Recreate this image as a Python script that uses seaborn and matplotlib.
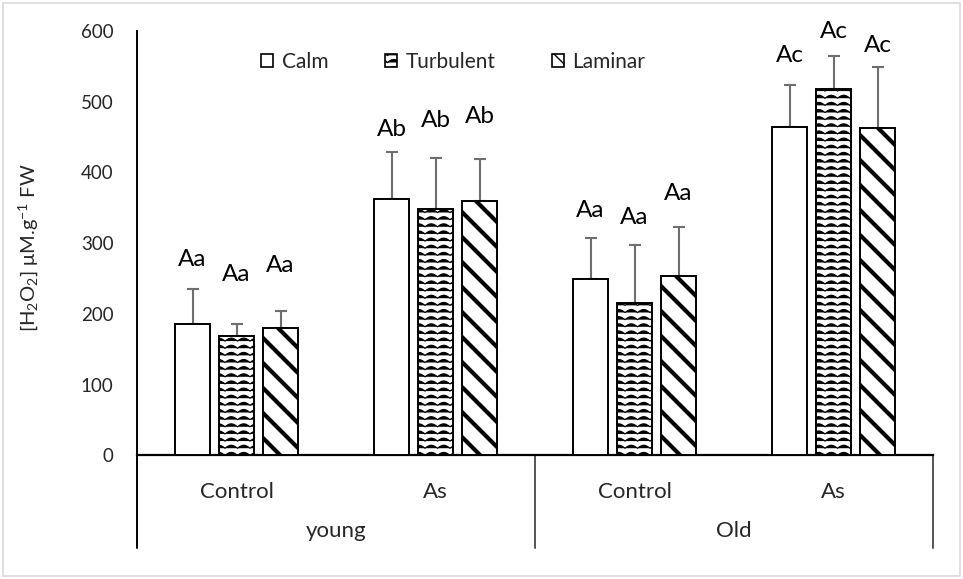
import numpy as np
import pandas as pd
import matplotlib
matplotlib.use('Agg')
import matplotlib.pyplot as plt
import matplotlib.hatch as mhatch
from matplotlib.path import Path
from matplotlib.patches import Patch, Rectangle
import seaborn as sns

# data
groups = ['young', 'young', 'Old', 'Old']
treatments = ['Control', 'As', 'Control', 'As']
flows = ['Calm', 'Turbulent', 'Laminar']

calm = [186, 362, 250, 464]
turbulent = [169, 349, 215, 518]
laminar = [180, 359, 253, 463]

calm_err = [49, 67, 58, 59]
turbulent_err = [17, 71, 82, 47]
laminar_err = [24, 60, 70, 86]

letters = ['Aa', 'Ab', 'Aa', 'Ac']
calm_lbl_y = [277, 461, 346, 566]
turbulent_lbl_y = [256, 473, 337, 599]
laminar_lbl_y = [268, 479, 370, 580]


# wavy hatch for "Turbulent" (uses the '*' slot)
class WaveHatch(mhatch.HatchPatternBase):
    def __init__(self, hatch, density):
        self.rows = 14 if '*' in hatch else 0
        self.periods = 8
        self.npts = self.periods * 6 + 1
        self.num_vertices = self.rows * self.npts

    def set_vertices_and_codes(self, vertices, codes):
        x = np.linspace(0, 1, self.npts)
        wave = 0.03 * np.abs(np.sin(np.pi * self.periods * x))
        for r in range(self.rows):
            sl = slice(r * self.npts, (r + 1) * self.npts)
            vertices[sl, 0] = x
            vertices[sl, 1] = (r + 0.25) / self.rows + wave
            codes[sl] = Path.LINETO
            codes[r * self.npts] = Path.MOVETO


# denser diagonal stripes for "Laminar" (uses the 'O' slot)
class StripeHatch(mhatch.SouthEastHatch):
    def __init__(self, hatch, density):
        self.num_lines = 8 * hatch.count('O')
        self.num_vertices = (self.num_lines + 1) * 2 if self.num_lines else 0


mhatch._hatch_types[mhatch._hatch_types.index(mhatch.Stars)] = WaveHatch
mhatch._hatch_types[mhatch._hatch_types.index(mhatch.LargeCircles)] = StripeHatch

hatches = {'Calm': '', 'Turbulent': '*', 'Laminar': 'O'}
hatch_lw = {'Calm': 1.0, 'Turbulent': 0.85, 'Laminar': 3.0}

keys = [g + ' ' + t for g, t in zip(groups, treatments)]
df = pd.DataFrame({
    'key': keys * 3,
    'flow': np.repeat(flows, 4),
    'value': calm + turbulent + laminar,
})
errs = {'Calm': calm_err, 'Turbulent': turbulent_err, 'Laminar': laminar_err}
lbl_y = {'Calm': calm_lbl_y, 'Turbulent': turbulent_lbl_y, 'Laminar': laminar_lbl_y}

sns.set_style('white')
plt.rcParams['font.family'] = ['Lato', 'DejaVu Sans']
plt.rcParams['mathtext.fontset'] = 'custom'
plt.rcParams['mathtext.rm'] = 'Lato'
plt.rcParams['mathtext.default'] = 'regular'
plt.rcParams['hatch.color'] = 'black'

fig = plt.figure(figsize=(9.63, 5.79), dpi=100)
ax = fig.add_axes([0.1423, 0.2133, 0.8266, 0.7332])

sns.barplot(data=df, x='key', y='value', hue='flow', hue_order=flows,
            order=keys, palette=['white'] * 3, width=0.663, gap=0.2,
            edgecolor='black', linewidth=1.4, errorbar=None, legend=False,
            saturation=1, ax=ax, zorder=3)

for flow, cont in zip(flows, ax.containers):
    for p in cont.patches:
        p.set_hatch(hatches[flow])
        if hasattr(p, 'set_hatch_linewidth'):
            p.set_hatch_linewidth(hatch_lw[flow])
        cx = p.get_x() + p.get_width() / 2
        i = int(round(cx))
        h = p.get_height()
        ax.errorbar(cx, h, yerr=[[0], [errs[flow][i]]], fmt='none',
                    ecolor='#6e6e6e', elinewidth=1.5, capsize=4,
                    capthick=1.5, zorder=2)
        ax.text(cx, lbl_y[flow][i], letters[i], ha='center', va='center',
                fontsize=17.5, color='black')

ax.set_ylim(0, 600)
ax.set_xlim(-0.5, 3.5)
ax.set_yticks(range(0, 601, 100))
ax.tick_params(axis='y', direction='in', length=5, width=1.2, pad=17,
               labelsize=13.5, color='black')
ax.set_xticks([])
ax.set_xlabel('')
ax.set_ylabel('[H$_2$O$_2$] μM.g$^{-1}$ FW', fontsize=14.5)
ax.yaxis.set_label_coords(-0.122, 0.49)
sns.despine(ax=ax)
ax.spines['left'].set_color('black')
ax.spines['left'].set_linewidth(1.4)
ax.spines['bottom'].set_color('black')
ax.spines['bottom'].set_linewidth(1.6)

# multi-level category axis
trans = ax.get_xaxis_transform()
for i, t in enumerate(treatments):
    ax.text(i, -0.086, t, transform=trans, ha='center', va='center',
            fontsize=16)
for k, g in enumerate(['young', 'Old']):
    ax.text(2 * k + 0.5, -0.178, g, transform=trans, ha='center',
            va='center', fontsize=16)
for xpos, col in [(-0.5, 'black'), (1.5, '#555555'), (3.5, '#555555')]:
    ax.plot([xpos, xpos], [0, -0.218], transform=trans, color=col,
            lw=1.4, clip_on=False)

handles = [Patch(facecolor='white', edgecolor='black', hatch=hatches[f],
                 linewidth=1.2, label=f) for f in flows]
ax.legend(handles=handles, loc='center', bbox_to_anchor=(0.397, 0.927),
          ncol=3, frameon=False, fontsize=15, handlelength=0.6,
          handleheight=0.6, handletextpad=0.4, columnspacing=2.7)

fig.patches.append(Rectangle((0.003, 0.005), 0.994, 0.99,
                             transform=fig.transFigure, fill=False,
                             edgecolor='#d9d9d9', linewidth=1.2))

fig.savefig('out.png', dpi=100)
